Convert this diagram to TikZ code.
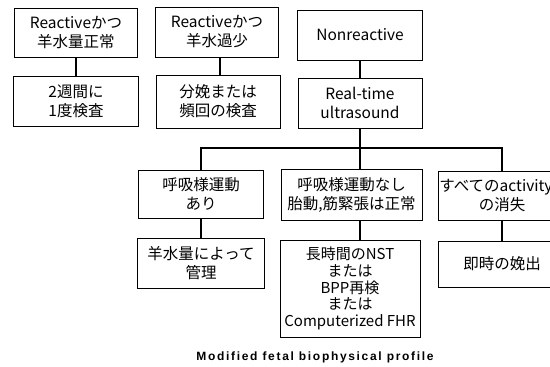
\documentclass[tikz,border=0pt]{standalone}
\usepackage{fontspec}
\setmainfont{Noto Sans CJK JP}
\newfontfamily\capfont{Liberation Sans}
\begin{document}
\begin{tikzpicture}[x=1pt,y=-1pt,
  box/.style={draw=black,line width=0.9pt,align=center,inner sep=0pt,
    font=\fontsize{15.5}{19}\selectfont},
  conn/.style={draw=black,line width=1.1pt}]
\useasboundingbox (0,0) rectangle (550,367);
\begin{scope}
\clip (0,0) rectangle (550,367);
\node[box,minimum width=123pt,minimum height=49pt] (r1) at (76,32.5) {Reactiveかつ\\羊水量正常};
\node[box,minimum width=123pt,minimum height=50pt] (r2) at (217,32) {Reactiveかつ\\羊水過少};
\node[box,minimum width=125pt,minimum height=50pt] (nr) at (360,35) {Nonreactive};
\node[box,minimum width=125pt,minimum height=50pt] (r1b) at (76,101) {2週間に\\1度検査};
\node[box,minimum width=124pt,minimum height=53pt] (r2b) at (218,101.5) {分娩または\\頻回の検査};
\node[box,minimum width=124pt,minimum height=50pt] (rt) at (360,103) {Real-time\\ultrasound};
\node[box,minimum width=125pt,minimum height=48pt] (A) at (201,194) {呼吸様運動\\あり};
\node[box,minimum width=141pt,minimum height=51pt] (B) at (351.5,194.5) {呼吸様運動なし\\胎動,筋緊張は正常};
\node[box,minimum width=128pt,minimum height=49pt] (C) at (502,195.5) {\hspace*{-12pt}すべてのactivity\\の消失};
\node[box,minimum width=127pt,minimum height=50pt] (D) at (201,263) {羊水量によって\\管理};
\node[box,minimum width=140pt,minimum height=97pt,font=\fontsize{15}{16.8}\selectfont] (E) at (350,288.5) {長時間のNST\\または\\BPP再検\\または\\Computerized FHR};
\node[box,minimum width=128pt,minimum height=46pt] (F) at (502,264) {即時の娩出};
\end{scope}
\node[font=\capfont\bfseries\fontsize{12}{14}\selectfont] (cap) at (315,357) {\addfontfeature{LetterSpace=14}Modified fetal biophysical profile};
\coordinate (bus) at (360,148);
\draw[conn] (r1) -- (r1b);
\draw[conn] (r2.south -| 220,0) -- (r2b.north -| 220,0);
\draw[conn] (nr) -- (rt);
\draw[conn] (rt.south) -- (rt.south |- B.north);
\draw[conn] (A.north) |- (bus) -| (C.north);
\draw[conn] (A) -- (D);
\draw[conn] (B.south -| rt.south) -- (E.north -| rt.south);
\draw[conn] (C) -- (F);
\end{tikzpicture}
\end{document}
